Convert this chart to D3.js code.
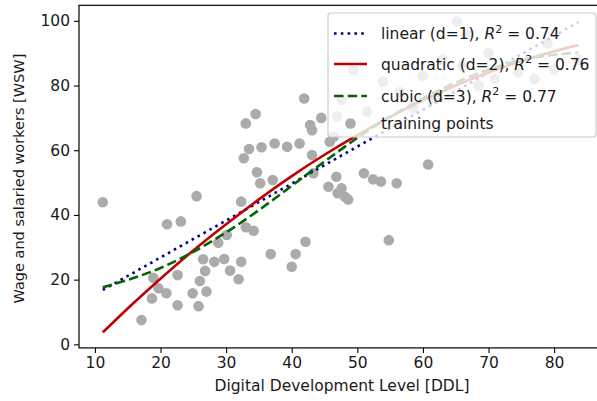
<!DOCTYPE html>
<html><head><meta charset="utf-8">
<script src="https://cdn.jsdelivr.net/npm/d3@7"></script>
<style>
body{margin:0;background:#fff;}
svg{display:block;font-family:"DejaVu Sans",sans-serif;}
</style></head>
<body>
<svg id="chart" width="597" height="401"></svg>
<script>
// training points (DDL, WSW)
const pointsX = [11.2,17.1,18.7,19.7,18.9,20.9,22.6,22.6,21.0,23.1,24.9,25.8,27.0,26.0,26.8,26.5,28.2,29.7,30.6,31.9,32.3,36.8,28.8,30.1,33.0,34.2,32.3,25.5,34.5,33.0,33.5,35.4,37.4,32.7,34.7,35.2,37.1,40.6,40.0,41.9,42.8,43.1,39.3,41.2,43.1,43.3,46.4,45.8,46.8,45.6,47.0,48.1,48.6,47.6,51.0,52.4,53.6,56.0,60.8,54.8,42.1,48.9,46.9,47.6,49.4,53.9,56.5,65.2,66.7,60.0,63.0,68.5,71.0,74.5,77.0,80.0,83.7,79.0,58.5,62.0,51.5,66.0,70.0,44.5];
const pointsY = [43.9,7.5,14.2,17.3,20.6,15.8,21.4,12.1,37.1,38.0,15.8,11.8,16.3,19.6,22.7,26.3,25.5,26.4,22.8,20.1,25.5,27.9,31.4,33.8,36.2,35.1,44.1,45.8,71.2,68.3,60.4,60.9,62.1,57.5,53.2,49.8,50.8,27.9,24.0,76.0,67.8,66.2,61.1,62.1,58.5,52.9,64.2,62.6,51.8,48.7,46.7,45.6,44.8,48.2,52.9,51.0,50.3,49.8,55.6,32.2,31.7,68.3,70.4,75.5,84.8,81.2,78.0,99.8,96.0,83.0,88.0,80.0,82.0,84.0,82.0,85.0,88.0,93.0,73.0,76.0,72.0,86.0,90.0,70.0];

// fitted curves
const linearX = [11.2, 83.7];
const linearY = [16.8, 99.6];
const quadX = [11.2,15,20,25,30,35,40,45,50,55,60,65,70,75,80,83.7];
const quadY = [3.7,11.1,20.3,29.0,37.1,44.8,52.0,58.6,64.7,70.3,75.4,80.0,84.0,87.6,90.6,92.5];
const cubicX = [11.2,15,20,25,30,35,40,45,50,55,60,65,70,75,80,83.7];
const cubicY = [17.6,19.9,23.6,28.6,34.6,41.5,49.0,56.5,63.8,70.4,76.0,80.9,84.9,87.8,89.5,90.2];

const xTicks = [10,20,30,40,50,60,70,80];
const yTicks = [0,20,40,60,80,100];
const legendLabels = [["linear (d=1), ","0.74"],["quadratic (d=2), ","0.76"],["cubic (d=3), ","0.77"],["training points",null]];

const FS = 15.5;
const svg = d3.select("#chart");
const L = 79, R = 602, T = 5.3, B = 347.9;
const x = d3.scaleLinear().domain([7.575, 87.3]).range([L, R]);
const y = d3.scaleLinear().domain([-1.1, 104.8]).range([B, T]);

const plot = svg.append("g");
plot.selectAll("circle.pt").data(pointsX.map((v,i)=>[v,pointsY[i]])).enter()
  .append("circle").attr("class","pt")
  .attr("cx",d=>x(d[0])).attr("cy",d=>y(d[1])).attr("r",5.3)
  .attr("fill","#ababab");

const line = d3.line().x(d=>x(d[0])).y(d=>y(d[1])).curve(d3.curveMonotoneX);
plot.append("path").datum(linearX.map((v,i)=>[v,linearY[i]]))
  .attr("d",line).attr("fill","none").attr("stroke","#00008b").attr("stroke-width",2.6)
  .attr("stroke-dasharray","2.6,4.2");
plot.append("path").datum(quadX.map((v,i)=>[v,quadY[i]]))
  .attr("d",line).attr("fill","none").attr("stroke","#c00000").attr("stroke-width",2.6);
plot.append("path").datum(cubicX.map((v,i)=>[v,cubicY[i]]))
  .attr("d",line).attr("fill","none").attr("stroke","#006400").attr("stroke-width",2.6)
  .attr("stroke-dasharray","9.5,4.2");

const xAxis = svg.append("g").attr("transform",`translate(0,${B})`)
  .call(d3.axisBottom(x).tickValues(xTicks).tickSize(5).tickPadding(4));
const yAxis = svg.append("g").attr("transform",`translate(${L},0)`)
  .call(d3.axisLeft(y).tickValues(yTicks).tickSize(5).tickPadding(4));
[xAxis,yAxis].forEach(a=>{
  a.select(".domain").remove();
  a.selectAll("line").attr("stroke","#000").attr("stroke-width",1.1);
  a.selectAll("text").attr("font-size",FS).attr("fill","#1a1a1a").attr("font-family","DejaVu Sans");
});
svg.append("rect").attr("x",L).attr("y",T).attr("width",R-L).attr("height",B-T)
  .attr("fill","none").attr("stroke","#000").attr("stroke-width",1.2);

svg.append("text").attr("x",342).attr("y",391).attr("text-anchor","middle")
  .attr("font-size",FS).attr("fill","#1a1a1a").text("Digital Development Level [DDL]");
svg.append("text").attr("transform",`translate(24,${(T+B)/2+2}) rotate(-90)`)
  .attr("text-anchor","middle").attr("font-size",14.5).attr("fill","#1a1a1a")
  .text("Wage and salaried workers [WSW]");

// legend
const lg = svg.append("g");
lg.append("rect").attr("x",328).attr("y",13).attr("width",268).attr("height",124)
  .attr("rx",3).attr("fill","#fff").attr("fill-opacity",0.8)
  .attr("stroke","#cccccc").attr("stroke-width",1.2);
const rowsY = [33.5,64,96,123.5];
const styles = [
  {c:"#00008b",d:"2.6,4.2"},{c:"#c00000",d:null},{c:"#006400",d:"9.5,4.2"}
];
styles.forEach((s,i)=>{
  const l = lg.append("line").attr("x1",334).attr("x2",367).attr("y1",rowsY[i]).attr("y2",rowsY[i])
    .attr("stroke",s.c).attr("stroke-width",2.6);
  if(s.d) l.attr("stroke-dasharray",s.d);
});
lg.append("circle").attr("cx",350.5).attr("cy",rowsY[3]).attr("r",5.3).attr("fill","#ababab");
legendLabels.forEach((lab,i)=>{
  const t = lg.append("text").attr("x",381).attr("y",rowsY[i]+5.5).attr("font-size",FS).attr("fill","#1a1a1a");
  t.append("tspan").text(lab[0]);
  if(lab[1]!==null){
    t.append("tspan").attr("font-style","italic").text("R");
    t.append("tspan").attr("font-size",11).attr("dy",-6.5).text("2");
    t.append("tspan").attr("dy",6.5).text(" = " + lab[1]);
  }
});
</script>
</body></html>
